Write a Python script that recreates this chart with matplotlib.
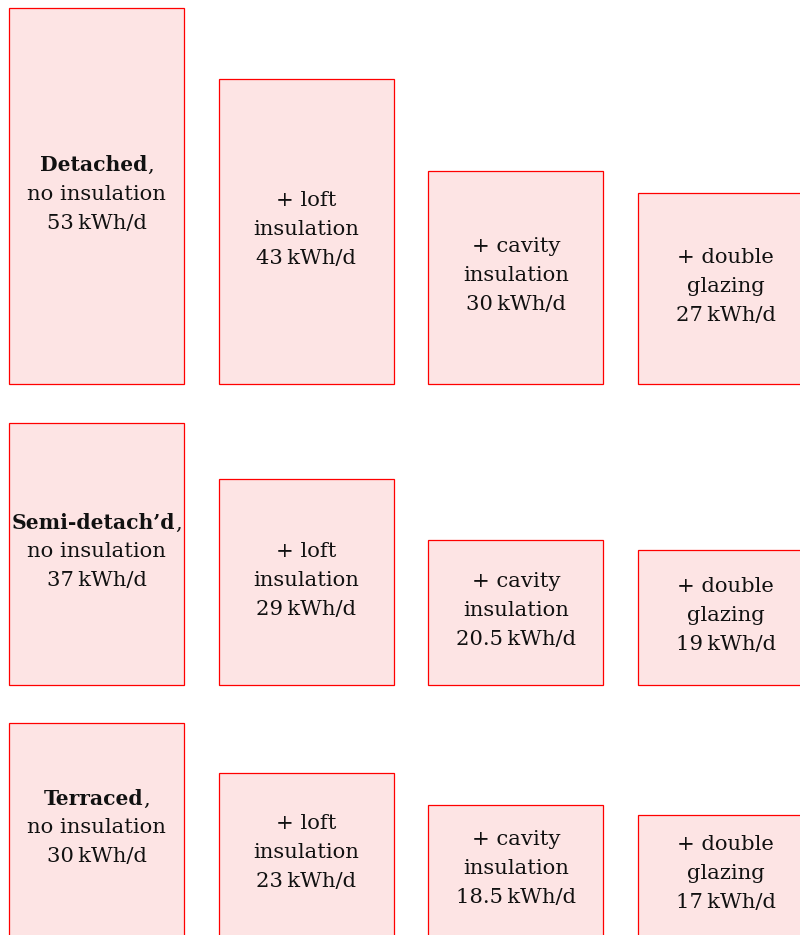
import matplotlib
matplotlib.use("Agg")
import matplotlib.pyplot as plt

# house types and heat loss (kWh/d) after each improvement
house_types = ["Detached", "Semi-detach\u2019d", "Terraced"]
steps = ["no insulation", "+ loft\ninsulation", "+ cavity\ninsulation", "+ double\nglazing"]
detached = [53, 43, 30, 27]
semi = [37, 29, 20.5, 19]
terraced = [30, 23, 18.5, 17]
value_labels = [["53", "43", "30", "27"],
                ["37", "29", "20.5", "19"],
                ["30", "23", "18.5", "17"]]

rows = [detached, semi, terraced]

# layout (pixels)
W, H = 800, 935
px_per_kwh = 7.09
row_bottoms_px = [384, 685, 936]
bar_left0 = 9
bar_step = 209.7
bar_w = 175
line_px = 29

font = ["DejaVu Serif"]
fs = 15.2
fs_bold = 14.6

fig = plt.figure(figsize=(W / 100, H / 100), dpi=100)
ax = fig.add_axes([0, 0, 1, 1])
ax.set_xlim(0, W)
ax.set_ylim(0, H / px_per_kwh)
ax.axis("off")

line_k = line_px / px_per_kwh

for r, vals in enumerate(rows):
    base = (H - row_bottoms_px[r]) / px_per_kwh
    xs = [bar_left0 + bar_step * i for i in range(len(vals))]
    ax.bar(xs, vals, width=bar_w, bottom=base, align="edge",
           color="#fde4e4", edgecolor="#ff0000", linewidth=0.9)
    for i, v in enumerate(vals):
        cx = xs[i] + bar_w / 2
        cy = base + v / 2 + 4 / px_per_kwh
        unit = value_labels[r][i] + "\u2009kWh/d"
        if i == 0:
            lines = [None, steps[0], unit]
        else:
            lines = steps[i].split("\n") + [unit]
        for j, txt in enumerate(lines):
            y = cy + line_k - j * line_k
            if txt is None:
                t = ax.annotate(house_types[r], (cx, y), xytext=(-2, 0),
                                textcoords="offset points", ha="center",
                                va="center_baseline", fontsize=fs_bold,
                                fontweight="bold", family=font, color="#111111")
                ax.annotate(",", xy=(1, 0), xycoords=t, ha="left", va="bottom",
                            fontsize=fs, family=font, color="#111111")
            else:
                ax.text(cx, y, txt, ha="center", va="center_baseline",
                        fontsize=fs, family=font, color="#111111")

fig.savefig("out.png", dpi=100)
